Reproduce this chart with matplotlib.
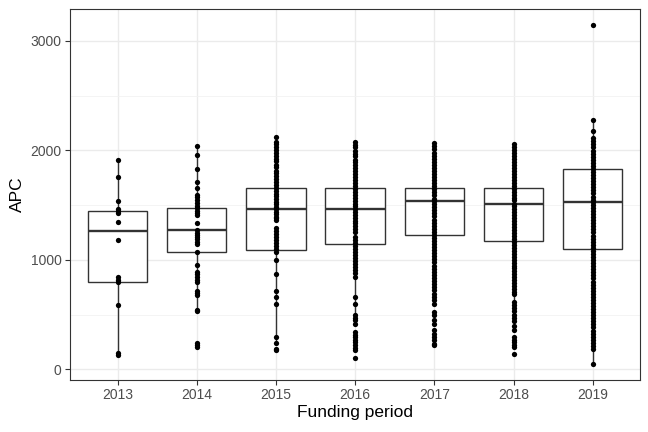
import matplotlib
matplotlib.use("Agg")
import matplotlib.pyplot as plt

# funding periods on the x axis
years = ["2013", "2014", "2015", "2016", "2017", "2018", "2019"]

# APC values per period
apc_2013 = [1910, 1759, 1539, 1461, 1448, 1430, 1342, 1177, 839, 820, 798, 585, 149, 134]
apc_2014 = [2042, 1957, 1829, 1713, 1653, 1591, 1570, 1546, 1515, 1491, 1470, 1448, 1424,
            1408, 1338, 1271, 1247, 1225, 1210, 1186, 1164, 1143, 1070, 951, 890, 869, 844,
            820, 798, 716, 700, 677, 546, 533, 241, 220, 204]
apc_2015 = [2125, 2079, 2055, 2030, 2004, 1980, 1952, 1925, 1898, 1870, 1845, 1815, 1790,
            1762, 1735, 1708, 1680, 1655, 1630, 1605, 1580, 1556, 1532, 1508, 1485, 1462,
            1440, 1418, 1395, 1378, 1363, 1287, 1262, 1235, 1208, 1180, 1152, 1125, 1098,
            1073, 997, 875, 716, 661, 594, 295, 241, 189, 174]
apc_2016 = [2079, 2052, 2026, 1998, 1970, 1944, 1916, 1890, 1862, 1835, 1808, 1780, 1752,
            1726, 1698, 1672, 1645, 1618, 1592, 1566, 1540, 1514, 1488, 1462, 1436, 1410,
            1384, 1358, 1332, 1305, 1280, 1256, 1210, 1182, 1155, 1128, 1100, 1072, 1045,
            1018, 990, 962, 934, 906, 878, 844, 661, 594, 494, 470, 448, 412, 341, 318, 295,
            270, 246, 222, 198, 174, 107]
apc_2017 = [2064, 2036, 2008, 1980, 1952, 1924, 1896, 1868, 1840, 1812, 1784, 1756, 1728,
            1700, 1672, 1644, 1616, 1588, 1560, 1534, 1508, 1480, 1452, 1424, 1396, 1368,
            1340, 1312, 1284, 1256, 1228, 1200, 1172, 1144, 1116, 1088, 1060, 1032, 1004,
            976, 948, 920, 892, 864, 836, 808, 780, 752, 724, 692, 661, 631, 601, 524, 494,
            448, 418, 357, 327, 295, 265, 235, 220]
apc_2018 = [2055, 2028, 2001, 1974, 1947, 1920, 1893, 1866, 1839, 1812, 1785, 1758, 1731,
            1704, 1677, 1650, 1623, 1596, 1569, 1542, 1512, 1488, 1461, 1434, 1407, 1380,
            1353, 1326, 1299, 1272, 1245, 1218, 1191, 1164, 1137, 1110, 1083, 1056, 1029,
            1002, 975, 948, 921, 894, 867, 840, 813, 786, 759, 732, 705, 692, 616, 590, 560,
            530, 500, 470, 440, 400, 357, 295, 270, 245, 220, 204, 144]
apc_2019 = [3146, 2277, 2180, 2110, 2082, 2054, 2026, 1998, 1970, 1942, 1914, 1886, 1858,
            1830, 1802, 1774, 1746, 1718, 1690, 1662, 1634, 1606, 1578, 1550, 1530, 1502,
            1474, 1446, 1418, 1390, 1362, 1334, 1306, 1278, 1250, 1222, 1194, 1166, 1138,
            1110, 1082, 1054, 1026, 998, 970, 942, 914, 886, 858, 830, 802, 774, 746, 718,
            690, 662, 634, 606, 578, 550, 522, 494, 466, 438, 410, 382, 354, 326, 298, 270,
            242, 214, 189, 52]

# box statistics
q1 = [798, 1070, 1086, 1140, 1229, 1171, 1100]
med = [1259, 1271, 1461, 1463, 1534, 1512, 1530]
q3 = [1442, 1472, 1658, 1658, 1658, 1658, 1826]
whislo = [134, 533, 241, 412, 600, 450, 52]
whishi = [1910, 2042, 2125, 2079, 2064, 2055, 2277]

all_apc = [apc_2013, apc_2014, apc_2015, apc_2016, apc_2017, apc_2018, apc_2019]

plt.rcParams['font.family'] = ['Liberation Sans', 'DejaVu Sans']

fig, ax = plt.subplots(figsize=(6.48, 4.32), dpi=100)
fig.subplots_adjust(left=0.108, right=0.988, top=0.979, bottom=0.121)

stats = []
for i in range(len(years)):
    stats.append({"q1": q1[i], "med": med[i], "q3": q3[i],
                  "whislo": whislo[i], "whishi": whishi[i], "fliers": []})

positions = list(range(1, len(years) + 1))
edge = "#333333"
ax.bxp(stats, positions=positions, widths=0.75, showcaps=False, patch_artist=True,
       boxprops=dict(facecolor="white", edgecolor=edge, linewidth=1.0),
       whiskerprops=dict(color=edge, linewidth=1.0),
       medianprops=dict(color=edge, linewidth=1.7), zorder=2)

for pos, vals in zip(positions, all_apc):
    ax.plot([pos] * len(vals), vals, "o", color="black", markersize=3.8,
            markeredgewidth=0, zorder=3)

ax.set_xlim(0.4, 7.6)
ax.set_ylim(-95, 3290)
ax.set_xticks(positions)
ax.set_xticklabels(years)
ax.set_yticks([0, 1000, 2000, 3000])
ax.set_yticks([500, 1500, 2500], minor=True)

# theme_bw look
ax.grid(True, which="major", color="#EBEBEB", linewidth=1.0, zorder=0)
ax.grid(True, which="minor", axis="y", color="#F2F2F2", linewidth=0.6, zorder=0)
ax.set_axisbelow(True)
for s in ax.spines.values():
    s.set_color(edge)
    s.set_linewidth(0.8)
ax.tick_params(axis="both", which="major", color=edge, length=3.5, width=0.8,
               labelcolor="#4D4D4D", labelsize=10, pad=2.5)
ax.tick_params(axis="y", which="minor", length=0)

ax.set_xlabel("Funding period", fontsize=12.5, labelpad=2)
ax.set_ylabel("APC", fontsize=12.5, labelpad=4)

fig.savefig("out.png", dpi=100)
